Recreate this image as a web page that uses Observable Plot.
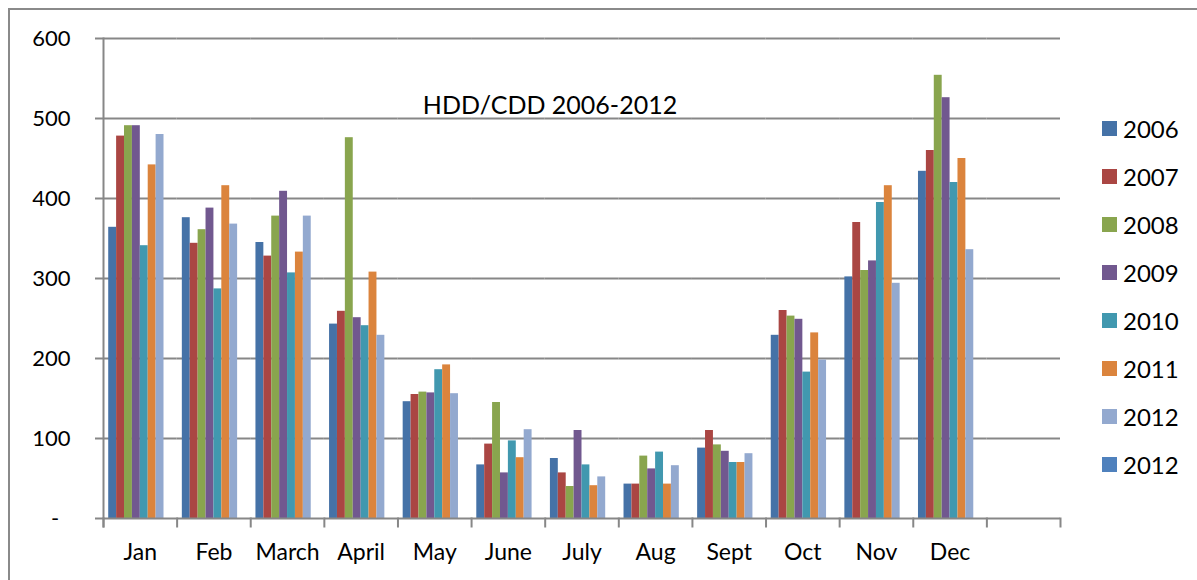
<!DOCTYPE html>
<html>
<head>
<meta charset="utf-8">
<script src="https://cdn.jsdelivr.net/npm/d3@7"></script>
<script src="https://cdn.jsdelivr.net/npm/@observablehq/plot@0.6"></script>
<style>
  html, body { margin: 0; padding: 0; background: #fff; overflow: hidden; width: 1197px; height: 580px; }
  #wrap { position: relative; width: 1197px; height: 580px; font-family: Lato, sans-serif; }
  #frame { position: absolute; left: 8px; top: 8px; width: 1400px; height: 800px; border: 2px solid #8a8a8a; box-sizing: border-box; }
  #chart { position: absolute; left: 0; top: 0; }
  #title { position: absolute; left: 550px; top: 89px; transform: translateX(-50%); font-size: 25px; line-height: 30px; white-space: nowrap; color: #000; }
  .lg { position: absolute; left: 1102px; height: 30px; display: flex; align-items: center; font-size: 24px; color: #000; }
  .sw { width: 15px; height: 15px; margin-right: 6px; }
</style>
</head>
<body>
<div id="wrap">
  <div id="frame"></div>
  <div id="chart"></div>
  <div id="title"></div>
  <div id="legend"></div>
</div>
<script>
const titleText = "HDD/CDD 2006-2012";
const months = ["Jan","Feb","March","April","May","June","July","Aug","Sept","Oct","Nov","Dec"," "];
const seriesKeys = ["2006","2007","2008","2009","2010","2011","2012","2012 (b)"];
const legendLabels = ["2006","2007","2008","2009","2010","2011","2012","2012"];
const colors = ["#4572A7","#AA4643","#89A54E","#71588F","#4198AF","#DB843D","#93A9CF","#4F81BD"];
const yTicks = [0,100,200,300,400,500,600];

const v2006 = [364,376,345,243,146,67,75,43,88,229,302,434];
const v2007 = [478,344,328,259,155,93,57,43,110,260,370,460];
const v2008 = [491,361,378,476,158,145,40,78,92,253,310,554];
const v2009 = [491,388,409,251,157,57,110,62,84,249,322,526];
const v2010 = [341,287,307,241,186,97,67,83,70,183,395,420];
const v2011 = [442,416,333,308,192,76,41,43,70,232,416,450];
const v2012 = [480,368,378,229,156,111,52,66,81,198,294,336];
const v2012b = [];

const seriesValues = [v2006, v2007, v2008, v2009, v2010, v2011, v2012, v2012b];
const data = [];
seriesValues.forEach((vals, si) => {
  vals.forEach((v, mi) => data.push({month: months[mi], series: seriesKeys[si], value: v}));
});
// the 13th category is empty in the source; keep its slot in the facet
data.push({month: months[12], series: seriesKeys[7], value: null});

const gray = "#878787";

const chart = Plot.plot({
  width: 1197,
  height: 580,
  marginLeft: 103,
  marginRight: 137,
  marginTop: 38,
  marginBottom: 62,
  style: {fontFamily: "Lato, sans-serif", fontSize: "20px", background: "transparent", color: "black"},
  fx: {domain: months, padding: 0, round: false, label: null},
  x: {domain: seriesKeys, paddingInner: 0, paddingOuter: 0.66, round: false, axis: null},
  y: {domain: [0, 600], label: null},
  color: {domain: seriesKeys, range: colors},
  marks: [
    Plot.gridY(yTicks.slice(1), {stroke: gray, strokeWidth: 2, strokeOpacity: 1}),
    Plot.barY(data, {fx: "month", x: "series", y: "value", fill: "series"}),
    Plot.ruleY([0], {stroke: gray, strokeWidth: 2}),
    Plot.frame({anchor: "left", facetAnchor: "left", stroke: gray, strokeWidth: 2, insetBottom: -8}),
    Plot.frame({anchor: "left", insetTop: 480, insetBottom: -8, stroke: gray, strokeWidth: 2}),
    Plot.frame({anchor: "right", facetAnchor: "right", insetTop: 480, insetBottom: -8, stroke: gray, strokeWidth: 2}),
    Plot.axisY(yTicks, {tickSize: 8, tickPadding: 25, stroke: gray, strokeWidth: 2, fill: "black", fontSize: 22, label: null,
      tickFormat: d => d === 0 ? "-\u00A0\u00A0" : String(d)}),
    Plot.axisFx({anchor: "bottom", tickSize: 0, tickPadding: 25, fontSize: 23, fill: "black", label: null})
  ]
});
document.getElementById("chart").appendChild(chart);

document.getElementById("title").textContent = titleText;
const legend = document.getElementById("legend");
legendLabels.forEach((lab, i) => {
  const row = document.createElement("div");
  row.className = "lg";
  row.style.top = (113 + 48 * i) + "px";
  const sw = document.createElement("div");
  sw.className = "sw";
  sw.style.background = colors[i];
  const tx = document.createElement("span");
  tx.textContent = lab;
  row.appendChild(sw);
  row.appendChild(tx);
  legend.appendChild(row);
});
</script>
</body>
</html>
